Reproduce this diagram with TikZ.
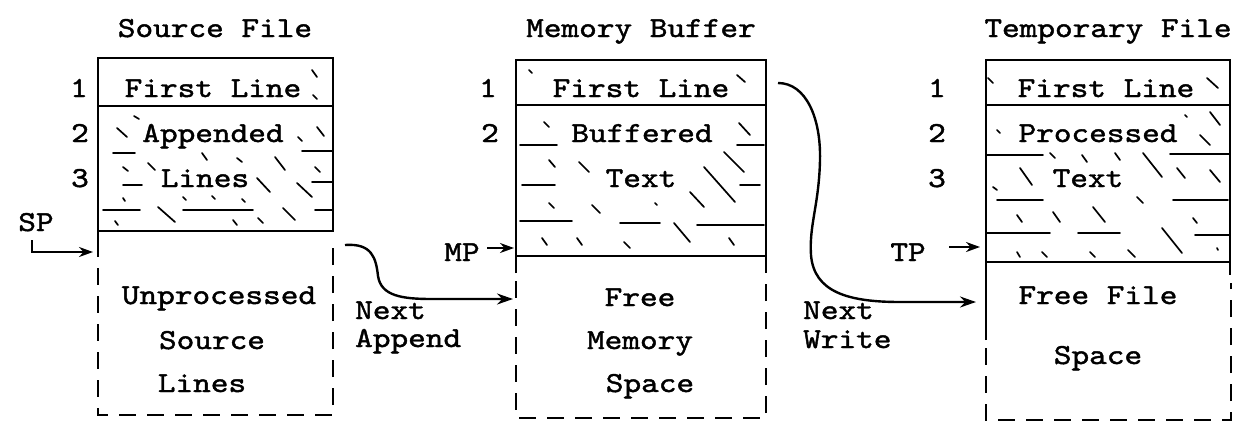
\documentclass[tikz,border=0pt]{standalone}
\usepackage{fontspec}
\newfontfamily\tw{lmmono10-regular.otf}[FakeStretch=1.16, FakeBold=1.5]
\usetikzlibrary{arrows.meta}
\tikzset{
  lbl/.style={font=\tw\fontsize{29}{32}\selectfont, anchor=base, inner sep=0pt},
  solidline/.style={line width=2.3pt},
  dashline/.style={line width=2.1pt, dash pattern=on 17pt off 11pt},
  hatch/.style={line width=1.7pt, line cap=round},
  conn/.style={line width=2.4pt, -{Stealth[length=16pt,width=11pt]}},
  ptr/.style={line width=2.2pt, -{Stealth[length=14pt,width=10pt]}}
}
\begin{document}
\begin{tikzpicture}[x=1pt,y=-1pt]
\useasboundingbox (0,0) rectangle (1256,440);
\fill[white] (0,0) rectangle (1256,440);

% ---------- titles ----------
\node[lbl] (tSrc) at (215,37) {Source File};
\node[lbl] (tMem) at (641,37) {Memory Buffer};
\node[lbl] (tTmp) at (1108,37) {Temporary File};

% ---------- Source File box ----------
\draw[solidline] (98,240) -- (98,58) -- (333,58) -- (333,232);
\draw[solidline] (98,106) -- (333,106);
\draw[solidline] (98,231) -- (333,231);
\draw[dashline] (98,240) -- (98,415) -- (333,415) -- (333,240);
\node[lbl] (s1) at (213,97) {First Line};
\node[lbl] (s2) at (213,142) {Appended};
\node[lbl] (s3) at (205,187) {Lines};
\node[lbl] (s4) at (219,304) {Unprocessed};
\node[lbl] (s5) at (212,349) {Source};
\node[lbl] (s6) at (202,392) {Lines};
\node[lbl] (n1s) at (79,97) {1};
\node[lbl] (n2s) at (80,142) {2};
\node[lbl] (n3s) at (80,187) {3};
\node[lbl] (sp) at (36,231) {SP};
\foreach \a/\b/\c/\d in {312/70/317/77, 313/95/317/99,
  117/128/127/137, 134/116/139/119, 298/137/302/141, 317/127/324/136,
  113/153/135/153, 302/151/332/151,
  202/153/207/160, 237/158/242/162, 275/157/285/170, 148/163/155/170, 123/167/128/171,
  123/185/142/185, 257/178/270/192, 297/183/312/197, 315/167/320/172, 312/182/332/182,
  103/210/140/210, 158/207/175/222, 183/210/253/210, 283/208/295/220, 315/210/332/210,
  123/198/125/201, 183/197/186/200, 212/196/215/199, 242/199/245/202,
  115/221/118/225, 233/220/237/225, 258/218/263/223}
  \draw[hatch] (\a,\b) -- (\c,\d);

% ---------- Memory Buffer box ----------
\draw[solidline] (516,273) -- (516,60) -- (766,60) -- (766,273);
\draw[solidline] (516,105) -- (766,105);
\draw[solidline] (516,256) -- (766,256);
\draw[dashline] (516,281) -- (516,418) -- (766,418) -- (766,281);
\node[lbl] (m1) at (641,97) {First Line};
\node[lbl] (m2) at (642,142) {Buffered};
\node[lbl] (m3) at (641,187) {Text};
\node[lbl] (m4) at (640,306) {Free};
\node[lbl] (m5) at (640,349) {Memory};
\node[lbl] (m6) at (650,392) {Space};
\node[lbl] (n1m) at (488,97) {1};
\node[lbl] (n2m) at (490,142) {2};
\node[lbl] (mp) at (462,261) {MP};
\foreach \a/\b/\c/\d in {529/70/532/73, 737/75/745/82,
  544/122/549/127, 739/123/750/135, 520/145/557/145, 737/145/764/145,
  549/160/555/167, 579/162/589/172, 724/152/744/172, 704/167/735/202, 690/192/704/207,
  522/185/555/185, 740/185/760/185,
  549/203/554/208, 592/205/600/213, 655/203/657/205,
  520/221/572/221, 620/223/660/223, 697/225/764/225, 674/223/690/242,
  542/238/547/245, 577/238/582/245, 624/242/630/248, 729/238/734/245}
  \draw[hatch] (\a,\b) -- (\c,\d);

% ---------- Temporary File box ----------
\draw[solidline] (986,340) -- (986,60) -- (1230,60) -- (1230,275);
\draw[solidline] (986,105) -- (1230,105);
\draw[solidline] (986,262) -- (1230,262);
\draw[dashline] (986,348) -- (986,420) -- (1231,420) -- (1231,283);
\node[lbl] (t1) at (1106,97) {First Line};
\node[lbl] (t2) at (1098,142) {Processed};
\node[lbl] (t3) at (1088,187) {Text};
\node[lbl] (t4) at (1098,304) {Free File};
\node[lbl] (t5) at (1098,364) {Space};
\node[lbl] (n1t) at (937,97) {1};
\node[lbl] (n2t) at (937,142) {2};
\node[lbl] (n3t) at (937,187) {3};
\node[lbl] (tp) at (908,261) {TP};
\foreach \a/\b/\c/\d in {988/78/993/83, 1207/78/1218/88,
  997/130/1000/133, 1210/112/1220/125, 1200/135/1210/145, 1185/115/1187/117,
  987/155/1043/155, 1170/154/1229/154,
  1050/153/1055/158, 1082/155/1087/162, 1115/153/1120/160, 1143/153/1162/177,
  1177/168/1185/178, 1210/170/1220/182, 1020/168/1032/185, 993/187/997/190,
  997/200/1043/200, 1173/200/1228/200, 1137/197/1143/203,
  1017/215/1022/222, 1053/212/1060/222, 1093/207/1105/222, 1193/218/1197/223,
  987/233/1050/233, 1078/233/1120/233, 1195/235/1229/235, 1162/228/1182/253,
  1017/252/1020/257, 1042/252/1047/257, 1090/252/1095/257, 1128/250/1135/257, 1217/248/1218/250}
  \draw[hatch] (\a,\b) -- (\c,\d);

% ---------- pointer arrows ----------
\coordinate (spS) at (32,240);
\coordinate (spE) at (93,252);
\draw[ptr] (spS) |- (spE);
\coordinate (mpS) at (487,248);
\coordinate (mpE) at (514,248);
\draw[ptr] (mpS) -- (mpE);
\coordinate (tpS) at (949,247);
\coordinate (tpE) at (980,247);
\draw[ptr] (tpS) -- (tpE);

% ---------- transfer arrows ----------
\coordinate (apS) at (345,245);
\coordinate (apE) at (513,299);
\draw[conn] (apS) .. controls (372,243) and (376,258) .. (378,276)
  .. controls (381,296) and (402,299) .. (432,299) -- (apE);
\node[lbl, anchor=base west] (na1) at (355,319) {Next};
\node[lbl, anchor=base west] (na2) at (355,347) {Append};

\coordinate (wrS) at (778,83);
\coordinate (wrE) at (976,302);
\draw[conn] (wrS) .. controls (806,83) and (821,118) .. (820,160)
  .. controls (819,205) and (809,225) .. (811,255)
  .. controls (814,292) and (848,302) .. (900,302) -- (wrE);
\node[lbl, anchor=base west] (nw1) at (803,319) {Next};
\node[lbl, anchor=base west] (nw2) at (803,348) {Write};
\end{tikzpicture}
\end{document}
